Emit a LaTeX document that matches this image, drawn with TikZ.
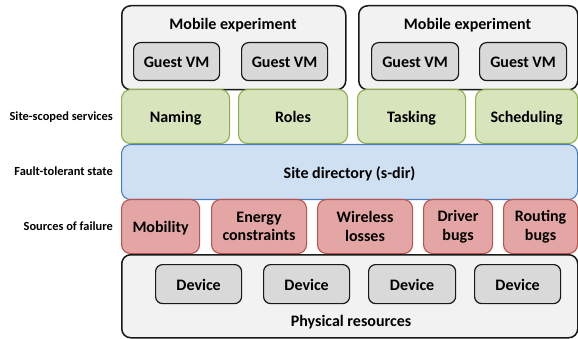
\documentclass[tikz,border=0pt]{standalone}
\usepackage{fontspec}
\setmainfont{Carlito}
\begin{document}
\begin{tikzpicture}[x=1pt,y=-1pt,
  base/.style={rounded corners=9pt, line width=1.1pt, anchor=north west, inner sep=0pt, align=center,
    font=\bfseries\fontsize{16}{18.5}\selectfont},
  sl/.style={text height=14pt, text depth=1.6pt},
  outerbox/.style={base, draw=black!90, fill=black!5, line width=1.5pt},
  vmbox/.style={base, sl, draw=black!90, fill=black!15, rounded corners=7pt, line width=1.2pt},
  svcbox/.style={base, sl, draw=svcline, fill=svcfill},
  dirbox/.style={base, sl, draw=dirline, fill=dirfill},
  failbox/.style={base, draw=failline, fill=faillbl},
  txt/.style={inner sep=0pt, anchor=base, font=\bfseries\fontsize{16}{19}\selectfont},
  side/.style={inner sep=0pt, anchor=east, text height=9.5pt, text depth=2pt, font=\bfseries\fontsize{12.4}{14}\selectfont}
]
\definecolor{svcline}{HTML}{8FAE4E}
\definecolor{svcfill}{HTML}{D8E4BC}
\definecolor{dirline}{HTML}{4A7EBB}
\definecolor{dirfill}{HTML}{CFE0F2}
\definecolor{failline}{HTML}{B85450}
\definecolor{faillbl}{HTML}{E4A6A4}
\useasboundingbox (0,0) rectangle (578,339);

% mobile experiments
\node[outerbox, minimum width=224pt, minimum height=84pt] (me1) at (121,5) {};
\node[outerbox, minimum width=219pt, minimum height=84pt] (me2) at (358,5) {};
\node[txt] (me1t) at (233,29.5) {Mobile experiment};
\node[txt] (me2t) at (467.5,29.5) {Mobile experiment};
\node[vmbox, minimum width=86pt, minimum height=38pt] (vm1) at (133,42) {Guest VM};
\node[vmbox, minimum width=86pt, minimum height=38pt] (vm2) at (241,42) {Guest VM};
\node[vmbox, minimum width=87pt, minimum height=38pt] (vm3) at (371,42) {Guest VM};
\node[vmbox, minimum width=87pt, minimum height=38pt] (vm4) at (479,42) {Guest VM};

% services
\node[svcbox, minimum width=108pt, minimum height=54pt] (naming) at (121,89) {Naming};
\node[svcbox, minimum width=109pt, minimum height=54pt] (roles) at (238,89) {Roles};
\node[svcbox, minimum width=108pt, minimum height=54pt] (tasking) at (357,89) {Tasking};
\node[svcbox, minimum width=102pt, minimum height=54pt] (sched) at (475,89) {Scheduling};

% site directory
\node[dirbox, minimum width=456pt, minimum height=55pt] (sdir) at (121,144) {Site directory (s-dir)};

% failures
\node[failbox, sl, minimum width=78pt, minimum height=54pt] (mob) at (121,199) {Mobility};
\node[failbox, minimum width=95pt, minimum height=54pt] (energy) at (211,199) {Energy\\constraints};
\node[failbox, minimum width=95pt, minimum height=54pt] (wless) at (317,199) {Wireless\\losses};
\node[failbox, minimum width=69pt, minimum height=54pt] (driver) at (423,199) {Driver\\bugs};
\node[failbox, minimum width=74pt, minimum height=54pt] (routing) at (503,199) {Routing\\bugs};

% physical
\node[outerbox, minimum width=456pt, minimum height=83pt] (phys) at (121,254) {};
\node[vmbox, minimum width=86pt, minimum height=39pt] (d1) at (155,264) {Device};
\node[vmbox, minimum width=86pt, minimum height=39pt] (d2) at (263,264) {Device};
\node[vmbox, minimum width=87pt, minimum height=39pt] (d3) at (368,264) {Device};
\node[vmbox, minimum width=86pt, minimum height=39pt] (d4) at (474,264) {Device};
\node[txt] (physt) at (351,326) {Physical resources};

% side labels
\node[side] (l1) at (113,117) {Site-scoped services};
\node[side] (l2) at (113,172) {Fault-tolerant state};
\node[side] (l3) at (113,227) {Sources of failure};
\end{tikzpicture}
\end{document}
